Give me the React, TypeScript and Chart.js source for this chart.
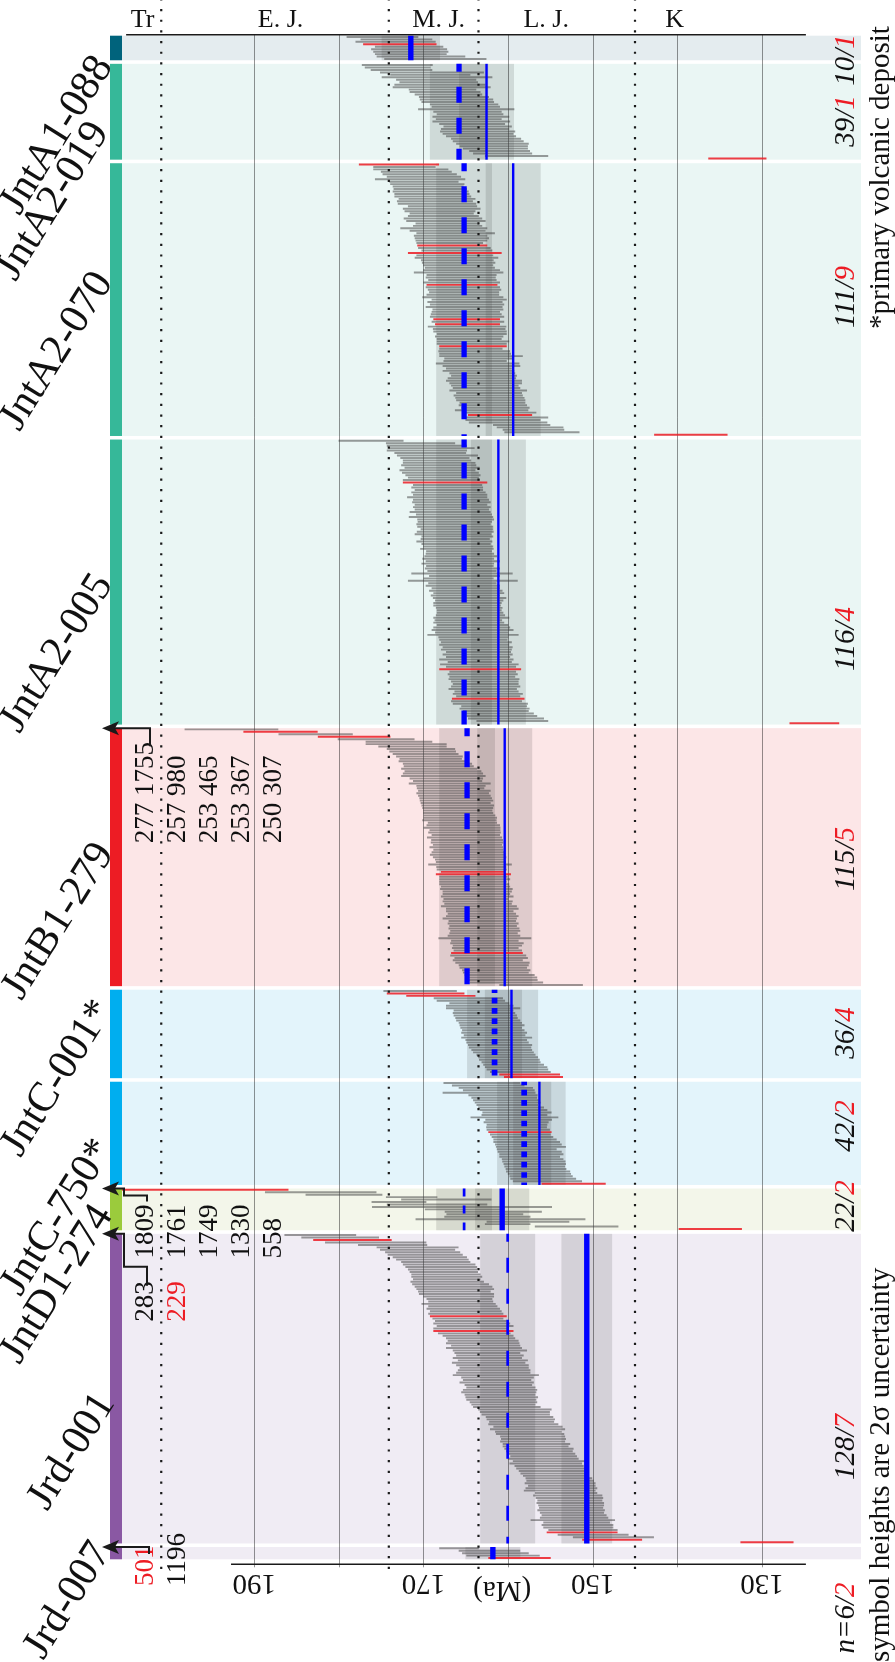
import React, { useEffect, useRef } from 'react';
import { Chart, registerables } from 'chart.js';

Chart.register(...registerables);

// Each grain: [age (Ma), 2σ half-width (Ma), 1 if discordant/rejected]
type Grain = [number, number] | [number, number, number];

const SAMPLES = ['JntA1-088', 'JntA2-019', 'JntA2-070', 'JntA2-005', 'JntB1-279', 'JntC-001*', 'JntC-750*', 'JntD1-274', 'Jrd-001', 'Jrd-007'];

const G_A1_088: Grain[] = [
  [174.85, 4.2], [173.2, 4.2], [173.3, 4.7], [172.8, 4.3, 1], [171.7, 4.0], [171.7, 4.45], [171.5, 4.4], [171.5, 4.2], [170.3, 5.2], [168.6, 6.0],
];

const G_A2_019: Grain[] = [
  [173.1, 4.15], [173.05, 3.85], [172.6, 3.6], [169.0, 6.1], [169.2, 4.7], [168.4, 6.5], [168.5, 4.7], [168.2, 4.6], [168.05, 5.35], [167.85, 5.75],
  [167.75, 3.95], [167.45, 4.15], [167.05, 3.95], [166.4, 4.1], [166.1, 4.3], [165.95, 4.25], [165.2, 4.0], [165.0, 4.0], [164.95, 5.65], [164.8, 4.0],
  [164.5, 3.9], [164.4, 4.5], [164.65, 3.85], [164.35, 4.55], [164.25, 3.85], [163.6, 4.0], [163.9, 4.0], [163.6, 4.4], [163.55, 4.15], [163.2, 4.1],
  [162.6, 4.1], [162.35, 4.15], [161.85, 4.25], [161.7, 4.0], [161.5, 3.8], [161.0, 3.55], [160.65, 3.45], [159.0, 3.7], [132.9, 3.4, 1],
];

const G_A2_070: Grain[] = [
  [172.9, 4.7, 1], [172.25, 3.65], [171.5, 4.4], [170.85, 4.15], [170.45, 4.35], [169.95, 4.35], [170.4, 5.3], [169.95, 4.05], [169.55, 4.35], [169.45, 4.15],
  [169.2, 4.3], [169.15, 4.45], [169.0, 4.4], [168.9, 4.5], [168.4, 4.5], [168.65, 4.45], [168.4, 4.6], [167.75, 4.05], [167.85, 4.55], [168.05, 4.15],
  [167.85, 3.75], [167.65, 4.15], [167.7, 4.6], [167.35, 4.65], [167.2, 3.7], [167.15, 4.05], [167.6, 5.1], [167.15, 4.45], [166.2, 4.6], [166.8, 4.3],
  [166.65, 4.35], [166.7, 4.2], [166.9, 3.9], [166.6, 4.1, 1], [166.35, 4.25], [166.05, 4.15], [166.3, 5.5, 1], [166.3, 4.5], [166.1, 4.9], [166.0, 4.25],
  [165.85, 4.3], [165.9, 4.1], [165.7, 4.1], [165.5, 4.5], [165.85, 5.25], [165.5, 4.1], [165.6, 4.1], [165.4, 4.0], [165.5, 4.5], [165.45, 4.15, 1],
  [165.35, 4.35], [165.15, 4.3], [165.2, 4.1], [165.35, 4.25], [165.35, 4.75], [164.6, 4.4], [165.1, 4.4], [164.85, 4.35], [165.2, 4.5], [164.75, 4.15],
  [165.0, 4.0], [164.95, 4.15], [164.85, 4.35], [164.9, 3.9, 1], [164.75, 4.25], [164.8, 3.8, 1], [164.85, 4.6], [164.6, 4.25], [164.5, 4.3], [164.3, 4.1],
  [164.6, 4.0], [164.6, 3.8], [164.15, 4.25], [164.3, 4.1], [164.15, 3.95, 1], [164.4, 3.7], [164.0, 4.2], [163.9, 4.2], [163.2, 4.9], [163.45, 4.05],
  [163.9, 3.7], [163.6, 4.9], [163.15, 4.55], [163.45, 3.85], [163.5, 4.2], [163.05, 3.85], [162.85, 3.85], [163.1, 4.0], [162.85, 4.45], [162.65, 4.25],
  [162.75, 3.95], [162.55, 3.95], [162.35, 4.55], [162.25, 3.85], [162.35, 4.05], [162.15, 4.05], [162.05, 4.05], [161.85, 3.85], [161.8, 4.0], [161.5, 4.0],
  [161.95, 4.3], [161.0, 4.3], [160.95, 3.75, 1], [160.2, 4.9], [160.6, 4.4], [160.0, 4.6], [158.4, 3.35], [157.4, 3.9], [157.0, 3.6], [156.0, 4.4],
  [138.4, 4.3, 1],
];

const G_A2_005: Grain[] = [
  [176.2, 3.8], [170.35, 4.05], [169.6, 4.7], [169.0, 5.0], [169.6, 4.7], [169.2, 4.2], [168.35, 4.75], [168.65, 4.05], [168.4, 4.0], [168.15, 4.25],
  [168.2, 4.4], [167.8, 4.4], [168.35, 4.45], [168.0, 4.5], [167.7, 4.4], [167.65, 4.15], [167.9, 4.5], [167.45, 4.95, 1], [167.15, 4.05], [167.2, 4.2],
  [167.0, 4.0], [167.05, 4.35], [166.85, 4.35], [167.2, 4.7], [166.75, 4.45], [166.7, 4.6], [166.75, 4.25], [166.65, 4.55], [166.65, 4.35], [166.85, 4.75],
  [166.4, 4.45], [166.75, 4.95], [166.2, 4.5], [166.3, 4.35], [166.45, 4.35], [166.25, 4.45], [166.05, 4.25], [166.25, 4.5], [166.5, 4.5], [166.0, 4.2],
  [166.25, 4.05], [166.35, 4.45], [166.15, 4.05], [165.9, 4.1], [166.05, 4.3], [165.8, 3.85], [165.7, 4.0], [165.6, 4.25], [165.9, 4.2], [165.35, 4.35],
  [165.95, 4.25], [165.7, 3.95], [165.4, 4.4], [165.45, 4.05], [165.45, 5.95], [165.15, 4.15], [165.85, 4.1], [165.35, 6.45], [165.4, 4.0], [165.35, 4.35],
  [165.0, 4.0], [165.0, 4.3], [164.65, 4.15], [165.05, 4.05], [164.55, 4.3], [164.6, 4.0], [164.8, 4.0], [164.85, 3.95], [164.6, 3.9], [164.6, 3.8],
  [164.5, 3.9], [164.45, 4.05], [164.35, 4.45], [164.7, 3.95], [164.65, 4.15], [164.2, 4.2], [164.3, 4.5], [164.2, 4.8], [164.3, 4.3], [164.15, 5.35],
  [164.1, 4.1], [164.1, 4.0], [163.75, 4.15], [164.0, 4.1], [163.6, 4.1], [163.75, 4.15], [163.5, 3.8], [163.6, 4.1], [163.55, 3.75], [163.75, 4.35],
  [163.35, 3.75], [163.4, 4.6], [163.2, 4.1], [163.3, 4.8, 1], [163.0, 3.9], [163.0, 4.1], [163.05, 3.85], [162.85, 4.15], [162.75, 3.95], [162.65, 3.85],
  [162.65, 4.05], [163.0, 4.0], [162.55, 3.75], [162.4, 4.1], [162.35, 3.75], [162.35, 4.25, 1], [162.55, 4.15], [162.1, 4.4], [161.65, 3.85], [161.6, 4.1],
  [161.45, 3.85], [161.15, 4.15], [160.75, 4.15], [160.25, 4.45], [159.5, 4.2], [123.8, 2.9, 1],
];

const G_B1_279: Grain[] = [
  [192.7, 5.5], [186.9, 4.35, 1], [182.75, 4.35], [178.2, 4.25, 1], [175.6, 4.5], [172.9, 3.9], [172.05, 4.75], [171.3, 4.0], [170.3, 4.0], [170.1, 3.9],
  [169.75, 3.85], [169.3, 3.9], [169.15, 3.65], [168.8, 4.1], [168.35, 4.05], [168.2, 4.1], [168.15, 4.45], [167.7, 4.5], [167.7, 4.7], [167.65, 4.95],
  [167.3, 4.3], [167.15, 4.05], [166.9, 4.8], [166.75, 4.05], [166.8, 3.95], [166.35, 4.25], [166.55, 4.25], [166.35, 4.25], [166.2, 4.25], [166.1, 4.3],
  [166.2, 4.1], [165.95, 4.25], [165.95, 4.15], [165.95, 4.05], [165.9, 4.1], [165.75, 4.2], [165.65, 4.3], [165.75, 4.35], [165.4, 4.05], [165.3, 4.3],
  [165.45, 4.5], [165.1, 4.15], [165.15, 4.25], [165.0, 4.0], [165.15, 4.4], [164.85, 4.2], [164.85, 4.25], [164.8, 4.05], [164.95, 4.3], [164.7, 4.1],
  [164.75, 4.25], [164.8, 4.4], [164.55, 4.3], [164.5, 4.1], [164.4, 4.1], [164.5, 4.9], [164.35, 4.1], [164.3, 4.1], [164.2, 3.7, 1], [164.1, 4.4, 1],
  [164.1, 4.0], [163.95, 4.15], [164.15, 3.95], [164.0, 4.1], [163.85, 4.05], [163.75, 4.25], [163.65, 4.05], [163.75, 3.95], [163.65, 4.25], [163.8, 3.8],
  [163.6, 4.1], [163.55, 3.95], [163.45, 4.45], [163.05, 4.25], [163.35, 3.95], [163.1, 4.0], [163.05, 4.25], [163.35, 4.35], [163.05, 3.95], [162.95, 4.15],
  [162.95, 3.95], [162.85, 4.15], [162.7, 4.1], [162.9, 4.0], [162.85, 4.25], [162.75, 5.45], [162.75, 3.95], [162.5, 4.3], [162.45, 4.05], [162.7, 3.9],
  [162.4, 4.0], [162.5, 4.2, 1], [162.35, 4.45], [162.0, 4.3], [162.4, 4.1], [161.85, 4.35], [161.7, 4.1], [161.75, 3.95], [161.4, 4.0], [161.45, 3.85],
  [161.0, 4.1], [160.75, 4.15], [160.6, 4.05], [160.2, 4.3], [156.1, 4.9],
];

const G_C_001: Grain[] = [
  [170.4, 4.3], [169.75, 4.55, 1], [167.95, 4.05, 1], [164.7, 4.05], [164.4, 4.0], [163.4, 3.5], [163.35, 3.95], [162.95, 4.35], [162.9, 3.5], [162.85, 3.65],
  [162.7, 3.7], [162.55, 3.65], [162.35, 3.75], [162.1, 3.7], [161.9, 3.8], [162.0, 3.6], [161.75, 3.65], [161.65, 3.85], [161.6, 3.6], [161.35, 4.15],
  [161.4, 3.6], [161.25, 3.65], [160.95, 3.75], [160.95, 3.65], [160.75, 3.55], [160.55, 3.55], [160.25, 3.45], [160.0, 3.5], [159.85, 3.55], [159.65, 3.45],
  [159.35, 3.55], [159.05, 3.65], [158.9, 3.6], [158.55, 3.55], [157.45, 3.55, 1], [157.0, 3.45, 1],
];

const G_C_750: Grain[] = [
  [163.1, 4.5], [162.35, 4.25], [161.45, 4.35], [161.1, 4.2], [162.25, 5.45], [160.6, 4.05], [160.45, 3.85], [160.25, 3.85], [160.05, 3.85], [160.1, 3.6],
  [159.65, 3.85], [159.35, 3.95], [158.95, 4.05], [159.25, 3.85], [159.25, 5.15], [158.75, 3.9], [159.05, 3.8], [158.95, 3.55], [159.0, 3.55], [158.8, 3.7],
  [158.6, 3.7, 1], [158.55, 3.55], [158.3, 3.6], [158.0, 3.7], [157.8, 3.9], [157.6, 3.9], [157.3, 4.1], [157.8, 3.5], [157.45, 3.75], [157.25, 3.75],
  [157.45, 3.55], [157.1, 3.6], [156.95, 3.7], [156.85, 3.65], [156.85, 3.55], [156.7, 3.55], [156.45, 3.75], [156.3, 3.7], [156.1, 3.7], [155.85, 3.85],
  [155.35, 4.05], [152.25, 3.75, 1],
];

const G_D1_274: Grain[] = [
  [199.0, 13.0, 1], [182.15, 6.55], [179.4, 4.5], [171.4, 3.0], [167.3, 5.3], [172.9, 3.2], [168.4, 5.9], [165.45, 10.6], [165.15, 4.65], [161.75, 5.7],
  [162.75, 4.5], [162.45, 5.05], [160.9, 10.0], [157.65, 4.85], [160.05, 2.65], [151.9, 4.9], [136.1, 3.7, 1],
];

const G_RD_001: Grain[] = [
  [182.2, 4.2], [179.85, 4.55], [178.4, 4.6, 1], [175.65, 5.95], [173.65, 4.05], [170.7, 4.8], [170.7, 4.4], [170.1, 4.4], [169.8, 4.4], [169.25, 4.35],
  [168.95, 4.25], [168.55, 4.05], [168.15, 4.25], [167.9, 4.2], [167.75, 4.05], [167.6, 4.0], [167.35, 4.05], [167.25, 4.15], [167.25, 3.95], [167.2, 4.3],
  [166.8, 4.5], [166.45, 4.55], [166.25, 4.55], [166.35, 4.25], [166.1, 4.4], [165.85, 4.15], [165.75, 3.85], [165.6, 3.8], [165.85, 4.35], [165.35, 4.05],
  [165.3, 4.3], [165.0, 4.2], [165.0, 4.4], [164.7, 4.5, 1], [164.75, 4.15], [164.4, 4.2], [164.3, 4.5], [163.9, 4.5], [164.4, 4.4], [164.1, 4.7, 1],
  [164.0, 4.25], [163.55, 4.15], [163.25, 4.05], [162.95, 4.15], [163.0, 4.3], [162.65, 4.05], [162.85, 4.45], [162.15, 4.35], [162.45, 3.85], [162.15, 3.95],
  [162.45, 4.05], [161.8, 4.1], [162.3, 4.3], [161.85, 4.25], [161.65, 4.05], [161.65, 4.25], [161.75, 4.35], [161.45, 5.05], [161.25, 4.25], [161.3, 4.0],
  [161.35, 4.35], [161.15, 3.95], [160.85, 4.05], [160.95, 4.35], [161.1, 4.4], [160.95, 4.15], [160.75, 4.25], [160.8, 4.1], [160.55, 3.95], [160.55, 3.75],
  [160.15, 3.95], [159.2, 4.3], [159.2, 4.1], [159.1, 4.0], [158.65, 3.95], [158.5, 4.0], [158.4, 3.8], [158.2, 4.1], [157.65, 4.05], [157.7, 4.4],
  [157.6, 3.9], [157.4, 4.0], [157.1, 3.8], [157.0, 3.8], [157.1, 3.8], [156.65, 3.95], [156.75, 3.85], [156.35, 4.05], [156.3, 3.9], [156.0, 3.9],
  [155.8, 3.9], [155.85, 4.15], [155.15, 4.25], [155.55, 4.25], [155.15, 4.05], [154.95, 4.05], [154.7, 4.0], [154.55, 3.95], [154.35, 3.85], [154.0, 3.9],
  [153.85, 3.95], [153.85, 4.15], [153.65, 3.95], [153.7, 4.2], [153.9, 4.2], [153.15, 3.65], [152.95, 4.05], [152.75, 3.95], [152.7, 3.8], [152.65, 3.95],
  [152.55, 3.85], [152.55, 3.75], [152.55, 3.95], [152.45, 3.75], [152.2, 3.8], [152.2, 4.0], [152.35, 4.95], [151.9, 3.9], [151.8, 4.2], [151.7, 4.1],
  [151.15, 4.05], [151.25, 4.15, 1], [149.95, 4.15], [147.55, 4.75], [147.7, 3.5, 1], [129.4, 3.1, 1],
];

const G_RD_007: Grain[] = [
  [165.8, 2.3], [162.2, 3.6], [161.5, 3.9], [160.6, 4.3], [158.65, 3.65, 1],
];

const GRAINS: Grain[][] = [G_A1_088, G_A2_019, G_A2_070, G_A2_005, G_B1_279, G_C_001, G_C_750, G_D1_274, G_RD_001, G_RD_007];

// Youngest-population ages per sample (Ma) with their ±uncertainty
const MEAN_A: (number | null)[] = [null, 165.8, 165.2, 165.2, 164.85, 161.6, 158.1, 165.2, 160.05, null];
const MEAN_A_ERR: (number | null)[] = [null, 3.45, 3.3, 3.3, 3.3, 3.25, 3.2, 3.3, 3.25, null];
const MEAN_B: number[] = [171.5, 162.55, 159.4, 161.15, 160.4, 159.6, 156.3, 160.7, 150.7, 161.8];
const MEAN_B_ERR: number[] = [3.45, 3.25, 3.25, 3.25, 3.25, 3.15, 3.1, 3.2, 3.0, 3.25];

// Grain counts / rejected counts printed at the right
const COUNT_N = [10, 39, 111, 116, 115, 36, 42, 22, 128, 6];
const COUNT_R = [1, 1, 9, 4, 5, 4, 2, 2, 7, 2];

// Off-scale grain ages listed beside the samples
const OFF_B1_279 = ['277 1755', '257 980', '253 465', '253 367', '250 307'];
const OFF_D1_274 = ['1809', '1761', '1749', '1330', '558'];
const OFF_RD_001 = ['283', '229'];
const OFF_RD_001_RED = [false, true];
const OFF_RD_007 = ['501', '1196'];
const OFF_RD_007_RED = [true, false];

const GRID_TICKS = [190, 180, 170, 160, 150, 140, 130];
const TICK_LABELS = [190, 170, 150, 130];
const PERIOD_BOUNDS = [201, 174.1, 163.5, 145];
const PERIOD_NAMES = ['Tr', 'E. J.', 'M. J.', 'L. J.', 'K'];
const PERIOD_LABEL_AGES = [203.2, 186.9, 168.2, 155.5, 140.3];

// ---- styling / layout ----
const STRIP_COLORS = ['#00637c', '#36b899', '#36b899', '#36b899', '#ed1c24', '#00aeef', '#00aeef', '#9bcb3c', '#8a58a3', '#8a58a3'];
const BAND_COLORS = ['#e4ecef', '#eaf6f4', '#eaf6f4', '#eaf6f4', '#fce6e7', '#e3f4fb', '#e3f4fb', '#f3f6ea', '#f0ecf4', '#f0ecf4'];
const MEAN_A_STYLE = ['', 'thickDash', 'thickDash', 'thickDash', 'thickDash', 'dot', 'dot', 'shortDash', 'longDash', ''];
const MEAN_B_STYLE = ['thick', 'thin', 'thin', 'thin', 'thin', 'thin', 'thin', 'thick', 'thick', 'thick'];
const LABEL_END = [[104, 60], [100, 126], [104, 276], [104, 578], [105, 847], [104, 1004], [104, 1143], [104, 1209], [106, 1397], [102, 1546]];
const COUNT_Y = [60, 121, 297, 639, 859, 1033, 1126, 1206, 1447, 1618];
const GAP_ROWS = 1.45;
const SERIF = '"Liberation Serif", "Times New Roman", serif';
// target placement of the plotting frame (px)
const FRAME = { left: 122, right: 861, top: 35.7, bottom: 1559.3 };
const X_REF = [[190, 254.3], [150, 592.7]];

const BANDS = (() => {
  let y = 0;
  return GRAINS.map((g) => {
    const b = { start: y, end: y + g.length };
    y += g.length + GAP_ROWS;
    return b;
  });
})();
const TOTAL_ROWS = BANDS[BANDS.length - 1].end;

function drawArrow(ctx: CanvasRenderingContext2D, pts: number[][]) {
  const tip = pts[pts.length - 1];
  ctx.beginPath();
  ctx.moveTo(pts[0][0], pts[0][1]);
  for (let i = 1; i < pts.length - 1; i++) ctx.lineTo(pts[i][0], pts[i][1]);
  ctx.lineTo(tip[0] + 10, tip[1]);
  ctx.stroke();
  ctx.beginPath();
  ctx.moveTo(tip[0] - 1, tip[1]);
  ctx.lineTo(tip[0] + 16, tip[1] - 7);
  ctx.lineTo(tip[0] + 12, tip[1]);
  ctx.lineTo(tip[0] + 16, tip[1] + 7);
  ctx.closePath();
  ctx.fill();
}

function vText(ctx: CanvasRenderingContext2D, parts: [string, string][], x: number, y: number, anchor: 'start' | 'center') {
  ctx.save();
  ctx.translate(x, y);
  ctx.rotate(-Math.PI / 2);
  ctx.textAlign = 'left';
  ctx.textBaseline = 'middle';
  const total = parts.reduce((s, p) => s + ctx.measureText(p[0]).width, 0);
  let cx = anchor === 'center' ? -total / 2 : 0;
  for (const [t, c] of parts) {
    ctx.fillStyle = c;
    ctx.fillText(t, cx, 0);
    cx += ctx.measureText(t).width;
  }
  ctx.restore();
}

const sheetPlugin = {
  id: 'sheet',
  beforeDraw(chart: any) {
    const { ctx, scales } = chart;
    const xs = scales.x, ys = scales.y;
    const left = xs.getPixelForValue(xs.max), right = xs.getPixelForValue(xs.min);
    ctx.save();
    ctx.fillStyle = '#ffffff';
    ctx.fillRect(0, 0, chart.width, chart.height);
    BANDS.forEach((b, k) => {
      const y0 = ys.getPixelForValue(b.start);
      const y1 = ys.getPixelForValue(b.end);
      ctx.fillStyle = BAND_COLORS[k];
      ctx.fillRect(left, y0, right - left, y1 - y0);
      ctx.fillStyle = STRIP_COLORS[k];
      ctx.fillRect(left - 12, y0, 12, y1 - y0);
      ctx.fillStyle = 'rgba(0,0,0,0.115)';
      const shade = (m: number | null, e: number | null) => {
        if (m == null || e == null) return;
        const xa = xs.getPixelForValue(m + e);
        const xb = xs.getPixelForValue(m - e);
        ctx.fillRect(xa, y0, xb - xa, y1 - y0);
      };
      shade(MEAN_A[k], MEAN_A_ERR[k]);
      shade(MEAN_B[k], MEAN_B_ERR[k]);
    });
    // age grid
    const top = ys.getPixelForValue(0) - 1;
    const bottom = ys.getPixelForValue(TOTAL_ROWS) + 5;
    ctx.strokeStyle = 'rgba(0,0,0,0.42)';
    ctx.lineWidth = 1;
    GRID_TICKS.forEach((t) => {
      const x = Math.round(xs.getPixelForValue(t)) + 0.5;
      ctx.beginPath();
      ctx.moveTo(x, top);
      ctx.lineTo(x, bottom + 3);
      ctx.stroke();
    });
    ctx.restore();
  },
  afterDatasetsDraw(chart: any) {
    const { ctx, scales } = chart;
    const xs = scales.x, ys = scales.y;
    ctx.save();
    // youngest-population lines
    const drawMean = (age: number | null, style: string, y0: number, y1: number) => {
      if (age == null || !style) return;
      const x = xs.getPixelForValue(age);
      ctx.strokeStyle = '#0000ff';
      ctx.lineCap = 'butt';
      let w = 2.4, dash: number[] = [], off = 0;
      if (style === 'thick') w = 5.4;
      else if (style === 'thickDash') { w = 5.3; dash = [16, 15]; off = 8; }
      else if (style === 'dot') { w = 5.7; dash = [5.7, 4.6]; off = 2.3; }
      else if (style === 'shortDash') { w = 2.7; dash = [8, 9]; off = 0; }
      else if (style === 'longDash') { w = 2.7; dash = [15, 16]; off = 7; }
      ctx.lineWidth = w;
      ctx.setLineDash(dash);
      ctx.lineDashOffset = off;
      ctx.beginPath();
      ctx.moveTo(x, y0);
      ctx.lineTo(x, y1);
      ctx.stroke();
    };
    BANDS.forEach((b, k) => {
      const y0 = ys.getPixelForValue(b.start);
      const y1 = ys.getPixelForValue(b.end);
      drawMean(MEAN_A[k], MEAN_A_STYLE[k], y0, y1);
      drawMean(MEAN_B[k], MEAN_B_STYLE[k], y0, y1);
    });
    ctx.setLineDash([]);

    const top = ys.getPixelForValue(0) - 1;
    const bottom = ys.getPixelForValue(TOTAL_ROWS) + 5;

    // period boundaries
    ctx.strokeStyle = '#1a1a1a';
    ctx.lineWidth = 2.2;
    ctx.setLineDash([2.2, 8.47]);
    ctx.lineDashOffset = 0;
    PERIOD_BOUNDS.forEach((a) => {
      const x = xs.getPixelForValue(a);
      ctx.beginPath();
      ctx.moveTo(x, -1.7);
      ctx.lineTo(x, bottom + 5);
      ctx.stroke();
    });
    ctx.setLineDash([]);

    // frame lines
    ctx.strokeStyle = '#1a1a1a';
    ctx.lineWidth = 1.6;
    ctx.beginPath();
    ctx.moveTo(xs.getPixelForValue(205.15), top);
    ctx.lineTo(xs.getPixelForValue(124.8), top);
    ctx.moveTo(xs.getPixelForValue(192.75), bottom);
    ctx.lineTo(xs.getPixelForValue(124.8), bottom);
    ctx.stroke();

    // period names
    ctx.fillStyle = '#111';
    ctx.font = `26px ${SERIF}`;
    ctx.textAlign = 'center';
    ctx.textBaseline = 'alphabetic';
    PERIOD_NAMES.forEach((n, i) => ctx.fillText(n, xs.getPixelForValue(PERIOD_LABEL_AGES[i]), top - 7.5));

    // age labels (upside down)
    ctx.font = `29px ${SERIF}`;
    const upside = (t: string, x: number, y: number) => {
      ctx.save();
      ctx.translate(x, y);
      ctx.rotate(Math.PI);
      ctx.textAlign = 'center';
      ctx.textBaseline = 'middle';
      ctx.fillStyle = '#111';
      ctx.fillText(t, 0, 0);
      ctx.restore();
    };
    TICK_LABELS.forEach((t) => upside(String(t), xs.getPixelForValue(t), bottom + 18));
    upside('(Ma)', xs.getPixelForValue(160.7), bottom + 25);

    // sample names
    ctx.font = `42px ${SERIF}`;
    ctx.fillStyle = '#111';
    SAMPLES.forEach((s, k) => {
      ctx.save();
      ctx.translate(LABEL_END[k][0], LABEL_END[k][1]);
      ctx.rotate((-58 * Math.PI) / 180);
      ctx.textAlign = 'right';
      ctx.textBaseline = 'middle';
      ctx.fillText(s, 0, 0);
      ctx.restore();
    });

    // off-scale ages + arrows
    const RED = '#ed1c24';
    const K = '#111';
    ctx.font = `27px ${SERIF}`;
    const bandTop = (k: number) => ys.getPixelForValue(BANDS[k].start);
    const colX = (j: number) => 146 + 32 * j;
    OFF_B1_279.forEach((t, j) => vText(ctx, [[t, K]], colX(j), bandTop(4) + 115, 'start'));
    OFF_D1_274.forEach((t, j) => vText(ctx, [[t, K]], colX(j), bandTop(7) + 70, 'start'));
    OFF_RD_001.forEach((t, j) => vText(ctx, [[t, OFF_RD_001_RED[j] ? RED : K]], colX(j), bandTop(8) + 88, 'start'));
    OFF_RD_007.forEach((t, j) => vText(ctx, [[t, OFF_RD_007_RED[j] ? RED : K]], colX(j), bandTop(9) + 39, 'start'));

    ctx.strokeStyle = '#1a1a1a';
    ctx.fillStyle = '#1a1a1a';
    ctx.lineWidth = 2;
    const t4 = bandTop(4);
    drawArrow(ctx, [[150, t4 + 18], [150, t4], [103, t4]]);
    const t7 = bandTop(7);
    drawArrow(ctx, [[147, t7 + 13], [147, t7 + 7], [124, t7 + 7], [124, t7], [103, t7]]);
    const t8 = bandTop(8);
    drawArrow(ctx, [[147, t8 + 52], [147, t8 + 33], [124, t8 + 33], [124, t8], [103, t8]]);
    const t9 = bandTop(9);
    drawArrow(ctx, [[149, t9 + 7], [149, t9], [103, t9]]);

    // counts at right
    ctx.font = `italic 29px ${SERIF}`;
    COUNT_N.forEach((n, k) => {
      const parts: [string, string][] = k === COUNT_N.length - 1
        ? [['n', K], ['=' + n + '/', K], [String(COUNT_R[k]), RED]]
        : [[n + '/', K], [String(COUNT_R[k]), RED]];
      vText(ctx, parts, 846, COUNT_Y[k], 'center');
    });

    // notes
    ctx.font = `29px ${SERIF}`;
    vText(ctx, [['*primary volcanic deposit', K]], 881, 329, 'start');
    vText(ctx, [['symbol heights are 2σ uncertainty', K]], 881, 1662, 'start');
    ctx.restore();
  },
};

// Solve new [min, max] for a linear scale so that two values land on two target pixels.
function fitRange(scale: any, v0: number, p0: number, v1: number, p1: number) {
  const a = scale.getPixelForValue(scale.min);
  const b = scale.getPixelForValue(scale.max);
  const u0 = (p0 - a) / (b - a);
  const u1 = (p1 - a) / (b - a);
  const range = (v1 - v0) / (u1 - u0);
  const min = v0 - u0 * range;
  return { min, max: min + range };
}

export default function App() {
  const ref = useRef<HTMLCanvasElement | null>(null);
  useEffect(() => {
    document.body.style.margin = '0';
    const canvas = ref.current;
    if (!canvas) return;
    const gray: any[] = [];
    const red: any[] = [];
    GRAINS.forEach((g, k) => {
      g.forEach((gr, i) => {
        const pt = { x: [gr[0] - gr[1], gr[0] + gr[1]], y: BANDS[k].start + i + 0.5 };
        (gr[2] ? red : gray).push(pt);
      });
    });
    const chart = new Chart(canvas, {
      type: 'bar',
      data: {
        datasets: [
          { data: gray, backgroundColor: 'rgba(60,60,60,0.5)', barThickness: 1.3, grouped: false, borderWidth: 0 } as any,
          { data: red, backgroundColor: 'rgba(236,28,36,0.85)', barThickness: 1.3, grouped: false, borderWidth: 0 } as any,
        ],
      },
      options: {
        animation: false,
        responsive: false,
        maintainAspectRatio: false,
        devicePixelRatio: 1,
        indexAxis: 'y',
        layout: { padding: { left: FRAME.left, right: 895 - FRAME.right, top: FRAME.top, bottom: 1662 - FRAME.bottom } },
        scales: {
          x: { type: 'linear', min: 118.29, max: 205.64, reverse: true, display: false, offset: false, grace: 0, bounds: 'data' },
          y: { type: 'linear', min: 0, max: TOTAL_ROWS, reverse: true, display: false, offset: false, grace: 0, bounds: 'data' },
        },
        plugins: { legend: { display: false }, tooltip: { enabled: false }, title: { display: false } },
      } as any,
      plugins: [sheetPlugin],
    });
    // pin the age axis and the row axis onto the frame
    for (let pass = 0; pass < 2; pass++) {
      const fy = fitRange(chart.scales.y, 0, FRAME.top, TOTAL_ROWS, FRAME.bottom);
      const fx = fitRange(chart.scales.x, X_REF[0][0], X_REF[0][1], X_REF[1][0], X_REF[1][1]);
      (chart.options.scales as any).y.min = fy.min;
      (chart.options.scales as any).y.max = fy.max;
      (chart.options.scales as any).x.min = Math.min(fx.min, fx.max);
      (chart.options.scales as any).x.max = Math.max(fx.min, fx.max);
      chart.update();
    }
    return () => chart.destroy();
  }, []);
  return (
    <div style={{ position: 'absolute', left: 0, top: 0, width: 895, height: 1662, background: '#fff' }}>
      <canvas ref={ref} width={895} height={1662} style={{ display: 'block', width: 895, height: 1662 }} />
    </div>
  );
}
